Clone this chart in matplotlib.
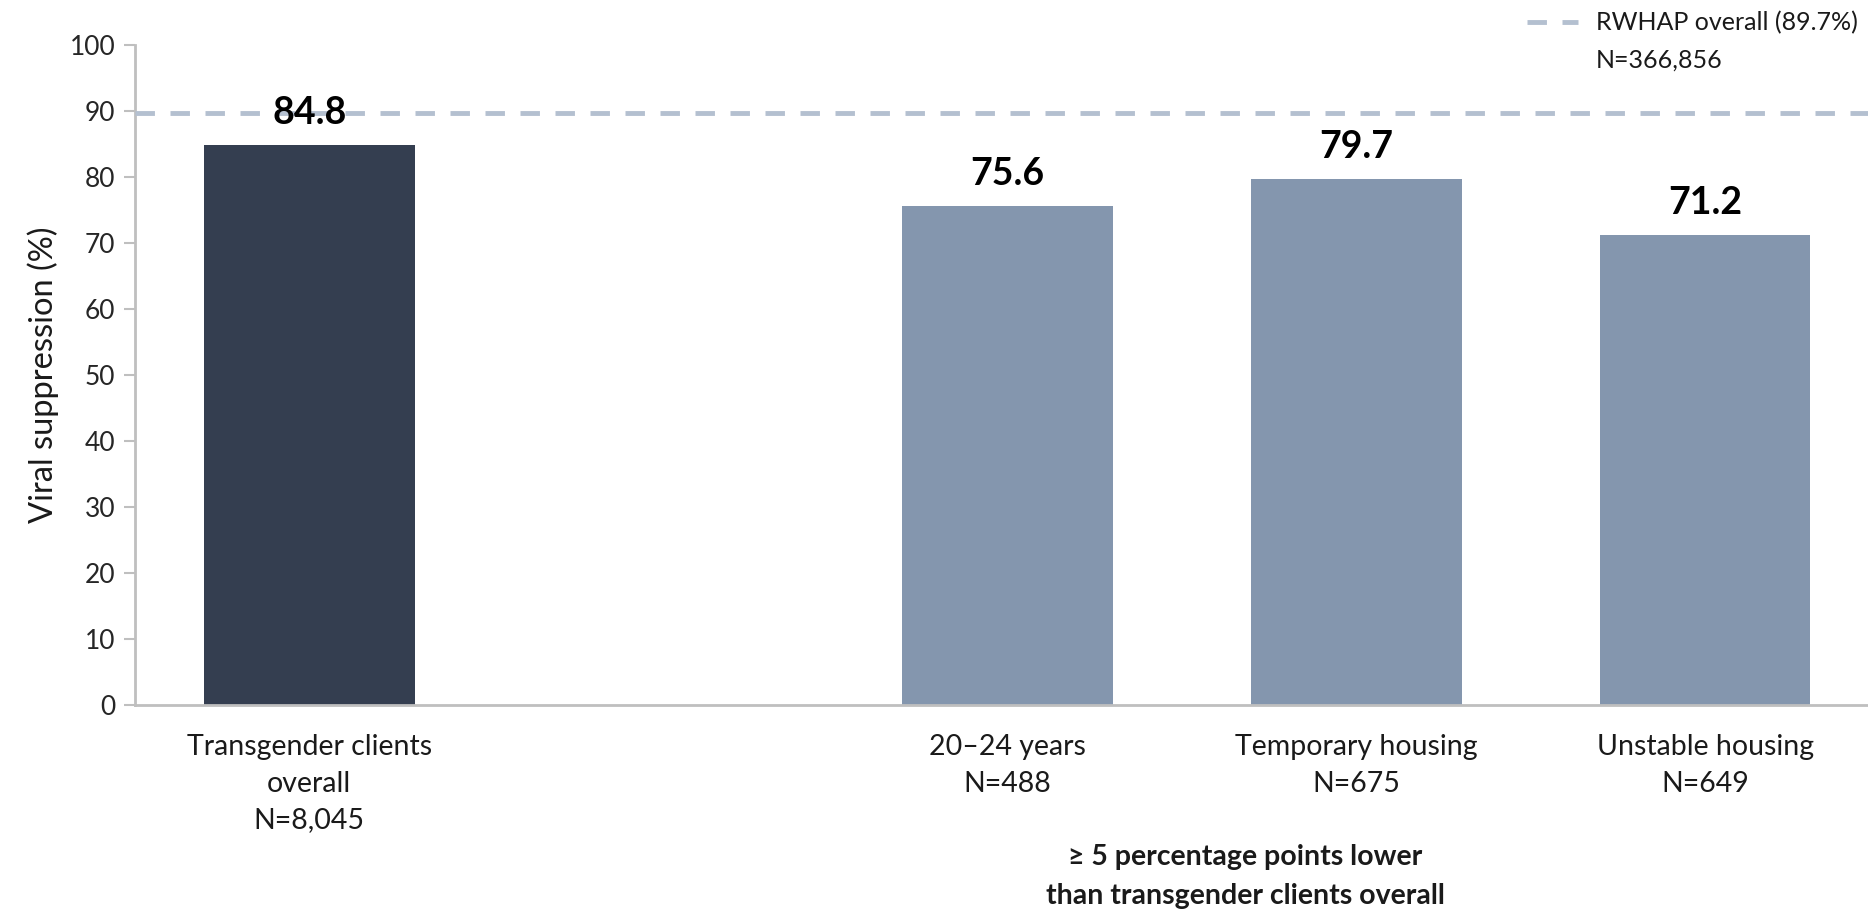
"""Viral suppression among transgender clients, bar chart with RWHAP reference line."""

import matplotlib

matplotlib.use("Agg")
import matplotlib.pyplot as plt

# data
positions = [0, 2, 3, 4]
labels = [
    "Transgender clients\noverall\nN=8,045",
    "20\u201324 years\nN=488",
    "Temporary housing\nN=675",
    "Unstable housing\nN=649",
]
values = [84.8, 75.6, 79.7, 71.2]
bar_colors = ["#343e50", "#8496ae", "#8496ae", "#8496ae"]
overall_value = 89.7
overall_label = "RWHAP overall (89.7%)\nN=366,856"
group_note = "\u2265 5 percentage points lower\nthan transgender clients overall"
yticks = list(range(0, 101, 10))

plt.rcParams["font.family"] = ["Lato", "DejaVu Sans"]

fig = plt.figure(figsize=(18.68, 9.09), dpi=100)
ax = fig.add_axes([0.0722, 0.2244, 0.934, 0.726])

ax.bar(positions, values, width=0.604, color=bar_colors, zorder=2)
ax.axhline(overall_value, color="#b4c0d0", lw=3.5, dashes=(4, 3.2), zorder=3)

for x, v in zip(positions, values):
    ax.annotate(f"{v:.1f}", (x, v), xytext=(0, 11), textcoords="offset points",
                ha="center", va="bottom", fontsize=27, fontweight="bold",
                color="black", zorder=4)

ax.set_xlim(-0.5, 4.5)
ax.set_ylim(0, 100)
ax.set_yticks(yticks)
ax.tick_params(axis="y", labelsize=19, length=8, width=1.5, color="#bfbfbf",
               labelcolor="#262626", pad=6)
ax.set_xticks(positions)
ax.set_xticklabels(labels, fontsize=20.5, linespacing=1.5, color="#1a1a1a")
ax.tick_params(axis="x", length=0, pad=21)
ax.set_ylabel("Viral suppression (%)", fontsize=23.5, color="#1a1a1a", labelpad=8)

for side in ("top", "right"):
    ax.spines[side].set_visible(False)
for side in ("left", "bottom"):
    ax.spines[side].set_color("#bfbfbf")
    ax.spines[side].set_linewidth(2)

# legend drawn by hand at top right
fig.lines.append(plt.Line2D([1527 / 1868, 1578 / 1868], [1 - 22 / 909] * 2,
                            transform=fig.transFigure, color="#b4c0d0",
                            lw=3.5, dashes=(4, 3.2)))
fig.text(1596 / 1868, 1 - 11 / 909, overall_label, ha="left", va="top",
         fontsize=18, linespacing=1.75, color="#1a1a1a")

fig.text(1245 / 1868, 1 - 844 / 909, group_note, ha="center", va="top",
         fontsize=20.5, fontweight="bold", linespacing=1.6, color="#1a1a1a")

fig.savefig("out.png", dpi=100)
